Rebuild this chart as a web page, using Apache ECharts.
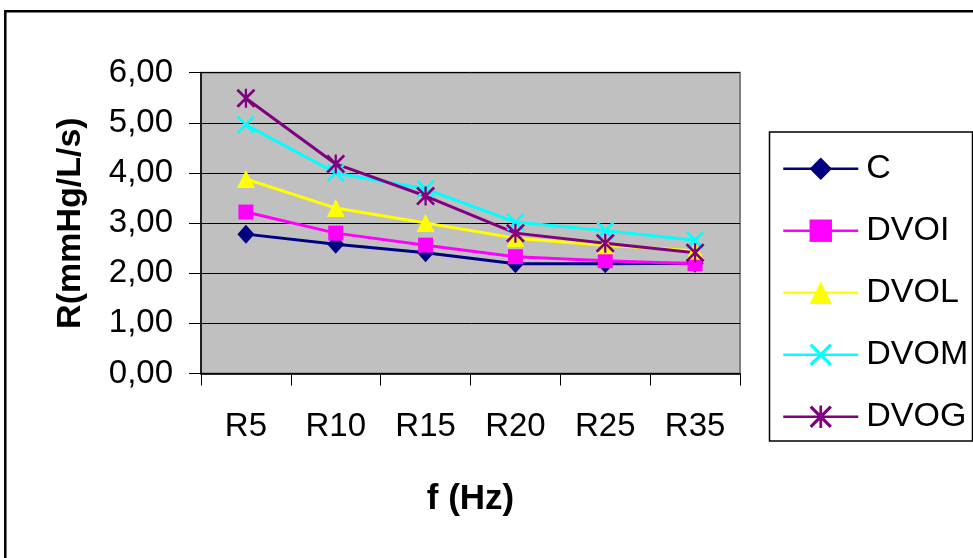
<!DOCTYPE html>
<html>
<head>
<meta charset="utf-8">
<script src="https://cdn.jsdelivr.net/npm/echarts@6/dist/echarts.min.js"></script>
<style>
html,body{margin:0;padding:0;background:#fff;}
#chart{width:973px;height:558px;}
</style>
</head>
<body>
<div id="chart"></div>
<script>
const categories = ['R5', 'R10', 'R15', 'R20', 'R25', 'R35'];
const seriesC    = [2.78, 2.58, 2.41, 2.19, 2.19, 2.20];
const seriesDVOI = [3.22, 2.80, 2.56, 2.33, 2.25, 2.19];
const seriesDVOL = [3.88, 3.30, 3.00, 2.70, 2.56, 2.45];
const seriesDVOM = [4.96, 4.00, 3.68, 3.02, 2.85, 2.66];
const seriesDVOG = [5.49, 4.18, 3.54, 2.80, 2.60, 2.41];
const yTitle = 'R(mmHg/L/s)';
const xTitle = 'f (Hz)';

const FONT = "'Liberation Sans', Arial, sans-serif";
const xSymbol = 'path://M0,10 L10,0 L50,40 L90,0 L100,10 L60,50 L100,90 L90,100 L50,60 L10,100 L0,90 L40,50 Z';
const starSymbol = 'path://M0,10 L10,0 L50,40 L90,0 L100,10 L60,50 L100,90 L90,100 L50,60 L10,100 L0,90 L40,50 Z M44,0 L56,0 L56,100 L44,100 Z';

function mk(name, data, color, symbol, size) {
  return {
    name: name, type: 'line', data: data,
    symbol: symbol, symbolSize: size,
    lineStyle: { color: color, width: 3 },
    itemStyle: { color: color, borderWidth: 0 },
    emphasis: { disabled: true },
    animation: false
  };
}

const chart = echarts.init(document.getElementById('chart'), null, { renderer: 'canvas' });
chart.setOption({
  animation: false,
  backgroundColor: '#ffffff',
  textStyle: { fontFamily: FONT },
  graphic: [
    { type: 'rect', shape: { x: 5.3, y: 11.3, width: 1100, height: 700 },
      style: { fill: 'none', stroke: '#000', lineWidth: 2.5 }, z: 0 },
    { type: 'rect', shape: { x: 769.5, y: 132, width: 203, height: 309 },
      style: { fill: '#fff', stroke: '#000', lineWidth: 1.5 }, z: 1 }
  ],
  grid: {
    left: 201, top: 72.7, right: 233, bottom: 184.5,
    show: true, backgroundColor: '#C0C0C0', borderColor: '#808080', borderWidth: 2
  },
  legend: {
    orient: 'vertical', left: 782, top: 151.7, padding: 0,
    itemWidth: 75, itemHeight: 28, itemGap: 28,
    textStyle: { fontFamily: FONT, fontSize: 34, lineHeight: 30, color: '#000', padding: [0, 0, 0, 3] },
    lineStyle: { width: 2.5 },
    z: 5
  },
  xAxis: {
    type: 'category', data: categories, boundaryGap: true,
    axisLine: { lineStyle: { color: '#000', width: 1.5 } },
    axisTick: { show: true, length: 12, lineStyle: { color: '#000' } },
    axisLabel: { fontFamily: FONT, fontSize: 33, color: '#000', margin: 37 },
    name: xTitle, nameLocation: 'middle', nameGap: 108,
    nameTextStyle: { fontFamily: FONT, fontSize: 35, fontWeight: 'bold', color: '#000' }
  },
  yAxis: {
    type: 'value', min: 0, max: 6, interval: 1,
    axisLine: { show: true, lineStyle: { color: '#000', width: 1.5 } },
    axisTick: { show: true, length: 12, lineStyle: { color: '#000' } },
    splitLine: { show: true, lineStyle: { color: '#000', width: 1 } },
    axisLabel: { fontFamily: FONT, fontSize: 33, color: '#000', margin: 28,
      formatter: function (v) { return v.toFixed(2).replace('.', ','); } },
    name: yTitle, nameLocation: 'middle', nameGap: 113, nameRotate: 90,
    nameTextStyle: { fontFamily: FONT, fontSize: 34, fontWeight: 'bold', color: '#000' }
  },
  series: [
    mk('C', seriesC, '#000080', 'diamond', [17, 19]),
    mk('DVOI', seriesDVOI, '#FF00FF', 'rect', 15),
    mk('DVOL', seriesDVOL, '#FFFF00', 'triangle', 18),
    mk('DVOM', seriesDVOM, '#00FFFF', xSymbol, 18),
    mk('DVOG', seriesDVOG, '#800080', starSymbol, 19)
  ]
});
</script>
</body>
</html>
